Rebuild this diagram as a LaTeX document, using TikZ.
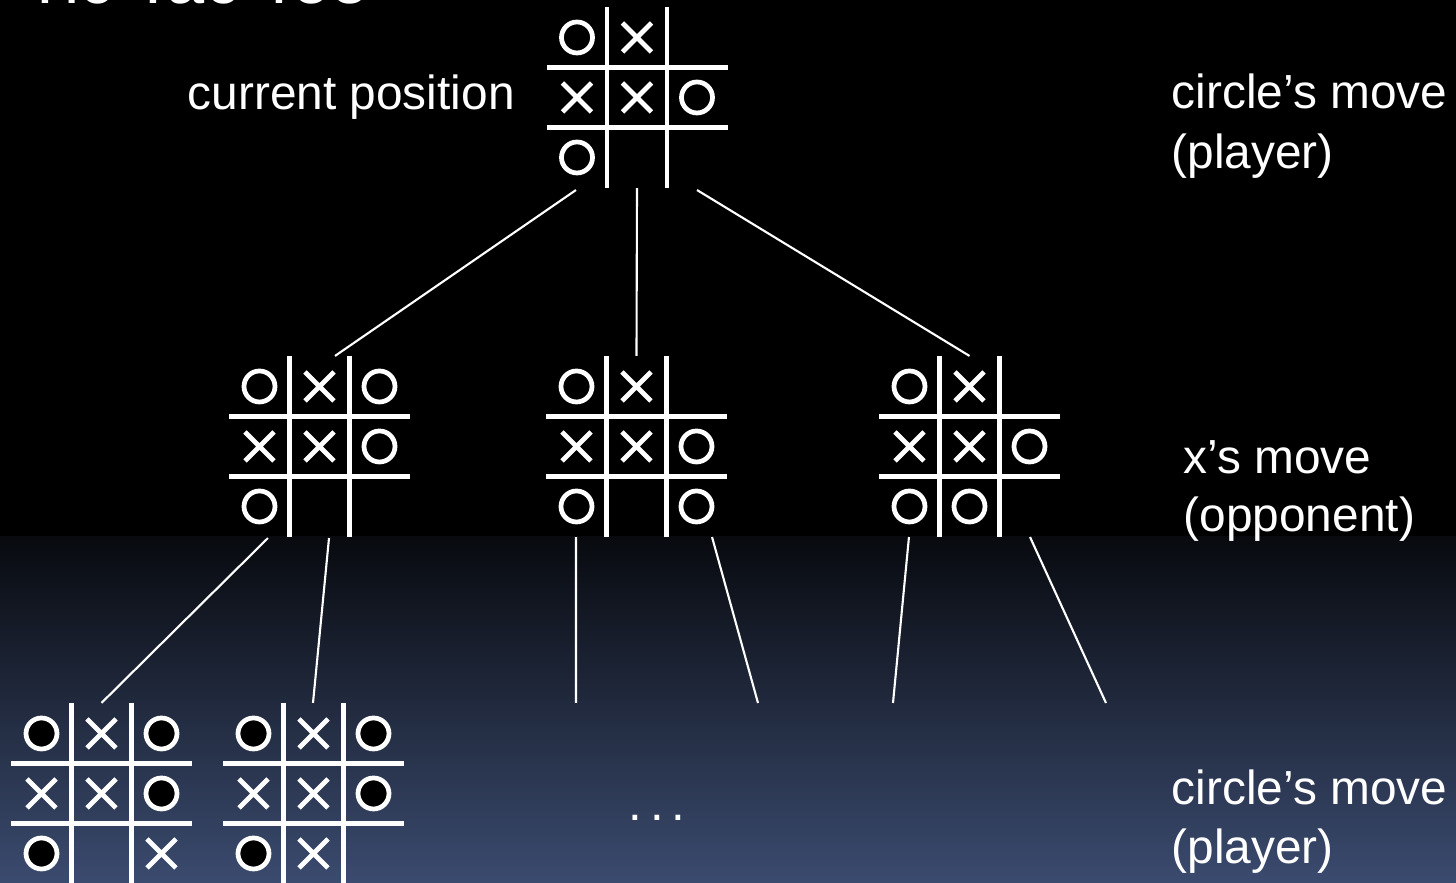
\documentclass[tikz,border=0pt]{standalone}
\usepackage{fontspec}
\setmainfont{Liberation Sans}
\usetikzlibrary{calc}
\definecolor{bgtop}{RGB}{8,10,15}
\definecolor{bgbot}{RGB}{59,75,111}
\tikzset{
  gridline/.style={white, line width=1.42pt},
  xmark/.style={white, line width=1.35pt},
  omark/.style={draw=white, fill=black, line width=1.35pt},
  boardbox/.style={minimum width=1.81cm, minimum height=1.81cm, inner sep=0pt, outer sep=0pt},
  link/.style={white, line width=0.6pt},
  lbl/.style={text=white, font=\fontsize{13.6}{15.3}\selectfont, anchor=base west, inner sep=0pt},
}
\newcommand\tttboard[2]{%
  \begin{scope}[shift={(#1.center)}]
    \draw[gridline] (-30,-90.5) -- (-30,90.5) (30,-90.5) -- (30,90.5)
                    (-90.5,-30) -- (90.5,-30) (-90.5,30) -- (90.5,30);
    \foreach \m [count=\k from 0] in {#2}{%
      \pgfmathsetmacro\cx{60*(mod(\k,3)-1)}%
      \pgfmathsetmacro\cy{60*(int(\k/3)-1)}%
      \if\m O\draw[omark] (\cx,\cy) circle (15.5);\fi
      \if\m X\draw[xmark] (\cx-14.5,\cy-14.5) -- (\cx+14.5,\cy+14.5)
                          (\cx-14.5,\cy+14.5) -- (\cx+14.5,\cy-14.5);\fi
    }
  \end{scope}}
\begin{document}
\begin{tikzpicture}[x=0.01cm, y=-0.01cm]
  \useasboundingbox (0,0) rectangle (1456,883);
  \fill[black] (0,0) rectangle (1456,883);
  \shade[top color=bgtop, bottom color=bgbot] (0,537) rectangle (1456,883);

  % title (cut off at the top edge)
  \node[text=white, font=\fontsize{19.5}{22}\selectfont, anchor=base west, inner sep=0pt] (title) at (24,4) {Tic Tac Toe};

  % boards
  \node[boardbox] (T)  at (637,97.5) {};
  \node[boardbox] (M1) at (319.5,446.5) {};
  \node[boardbox] (M2) at (636.5,446.5) {};
  \node[boardbox] (M3) at (969.5,446.5) {};
  \node[boardbox] (B1) at (101.5,793.5) {};
  \node[boardbox] (B2) at (313.5,793.5) {};

  \tttboard{T}{O,X,N,X,X,O,O,N,N}
  \tttboard{M1}{O,X,O,X,X,O,O,N,N}
  \tttboard{M2}{O,X,N,X,X,O,O,N,O}
  \tttboard{M3}{O,X,N,X,X,O,O,O,N}
  \tttboard{B1}{O,X,O,X,X,O,O,N,X}
  \tttboard{B2}{O,X,O,X,X,O,O,X,N}

  % free ends
  \coordinate (e1) at (576,703);
  \coordinate (e2) at (758,703);
  \coordinate (e3) at (893,703);
  \coordinate (e4) at (1106,703);

  % connectors
  \draw[link] ([shift={(-0.61cm,-0.02cm)}]T.south) -- ([xshift=0.155cm]M1.north);
  \draw[link] (T.south) -- (M2.north);
  \draw[link] ([shift={(0.6cm,-0.02cm)}]T.south) -- (M3.north);
  \draw[link] ([shift={(-0.515cm,-0.01cm)}]M1.south) -- (B1.north);
  \draw[link] ([shift={(0.095cm,-0.01cm)}]M1.south) -- ([xshift=-0.005cm]B2.north);
  \draw[link] ([xshift=-0.605cm]M2.south) -- (e1);
  \draw[link] ([xshift=0.755cm]M2.south) -- (e2);
  \draw[link] ([xshift=-0.605cm]M3.south) -- (e3);
  \draw[link] ([xshift=0.605cm]M3.south) -- (e4);

  % labels
  \node[lbl] (cur) at (187,110) {current position};
  \node[lbl] (l1a) at (1171,109) {circle’s move};
  \node[lbl] (l1b) at (1171,169) {(player)};
  \node[lbl] (l2a) at (1183,474) {x’s move};
  \node[lbl] (l2b) at (1183,532) {(opponent)};
  \node[lbl] (l3a) at (1171,805) {circle’s move};
  \node[lbl] (l3b) at (1171,864) {(player)};
  \node[text=white, font=\fontsize{14}{16}\selectfont, anchor=base, inner sep=0pt] (dots) at (657,821) {.\kern0.16em.\kern0.16em.};
\end{tikzpicture}
\end{document}
